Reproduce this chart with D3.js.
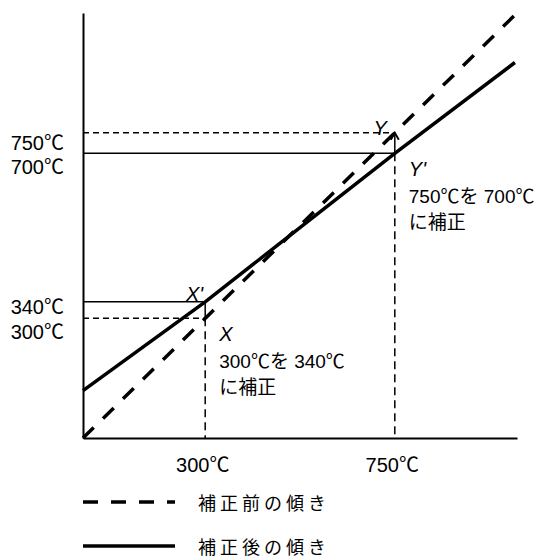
<!DOCTYPE html>
<html><head><meta charset="utf-8">
<script src="https://cdn.jsdelivr.net/npm/d3@7"></script>
<style>
body{margin:0;background:#fff;}
text{font-family:"Liberation Sans",Arial,"Noto Sans CJK JP",sans-serif;fill:#000;}
</style></head>
<body><svg id="c" width="545" height="558"></svg>
<script>
// ---- data ----
const xTickValues = [300, 750];
const yTickValues = [750, 700, 340, 300];
const tickLabel = d => d + "℃";
const beforeLine = [[10, 10], [1035, 1035]];                 // 補正前の傾き
const afterLine  = [[10, 125], [300, 340], [750, 700], [1035, 920]]; // 補正後の傾き
const corrections = [
  {actual: 300, before: 300, after: 340, p: "X", q: "X'", text1: "300℃を 340℃", text2: "に補正", arrow: false},
  {actual: 750, before: 750, after: 700, p: "Y", q: "Y'", text1: "750℃を 700℃", text2: "に補正", arrow: true}
];
const legendItems = [
  {label: "補正前の傾き", dashed: true},
  {label: "補正後の傾き", dashed: false}
];

// ---- chart ----
const svg = d3.select("#c");
const x = d3.scaleLinear().domain([10, 1040]).range([83, 517]);
const y = d3.scaleLinear().domain([10, 1040]).range([438, 13]);
const line = d3.line().x(d => x(d[0])).y(d => y(d[1]));

// reference lines
corrections.forEach(c => {
  svg.append("line").attr("x1", x.range()[0]).attr("x2", x(c.actual))
    .attr("y1", y(c.before)).attr("y2", y(c.before))
    .attr("stroke", "#000").attr("stroke-width", 1.5).attr("stroke-dasharray", "6,4");
  svg.append("line").attr("x1", x.range()[0]).attr("x2", x(c.actual))
    .attr("y1", y(c.after)).attr("y2", y(c.after))
    .attr("stroke", "#000").attr("stroke-width", 1.5);
  const low = Math.min(c.before, c.after);
  svg.append("line").attr("x1", x(c.actual)).attr("x2", x(c.actual))
    .attr("y1", y(low)).attr("y2", y.range()[0])
    .attr("stroke", "#000").attr("stroke-width", 1.5).attr("stroke-dasharray", "8,5");
  svg.append("line").attr("x1", x(c.actual)).attr("x2", x(c.actual))
    .attr("y1", y(low)).attr("y2", y(Math.max(c.before, c.after)) + (c.arrow ? 2 : 0))
    .attr("stroke", "#000").attr("stroke-width", 1.5);
  if (c.arrow) {
    const ax = x(c.actual), ay = y(c.before);
    svg.append("path").attr("d", `M${ax - 4},${ay + 7}L${ax},${ay}L${ax + 4},${ay + 7}`)
      .attr("fill", "none").attr("stroke", "#000").attr("stroke-width", 2);
  }
});

// diagonals
svg.append("path").datum(beforeLine).attr("d", line).attr("fill", "none")
  .attr("stroke", "#000").attr("stroke-width", 3.5).attr("stroke-dasharray", "15,13");
svg.append("path").datum(afterLine).attr("d", line).attr("fill", "none")
  .attr("stroke", "#000").attr("stroke-width", 3.5);

// axes
const xAxis = svg.append("g").attr("transform", `translate(0,${y.range()[0]})`)
  .call(d3.axisBottom(x).tickValues(xTickValues).tickFormat(tickLabel).tickSize(0).tickSizeOuter(0).tickPadding(20));
xAxis.select(".domain").attr("stroke-width", 2);
xAxis.selectAll("text").attr("font-size", 20).attr("dx", -3).attr("font-family", null);

const yAxis = svg.append("g").attr("transform", `translate(${x.range()[0]},0)`)
  .call(d3.axisLeft(y).tickValues(yTickValues).tickFormat(tickLabel).tickSize(0).tickSizeOuter(0).tickPadding(19));
yAxis.select(".domain").attr("stroke-width", 2);
// labels sit just under their lines; the upper label of each pair a little tighter
yAxis.selectAll("text").attr("font-size", 20).attr("font-family", null)
  .attr("dy", null).attr("y", (d, i) => (i === 2 ? 12 : i === 0 ? 17 : 20));

// annotations
corrections.forEach(c => {
  const ax = x(c.actual);
  const lo = y(Math.min(c.before, c.after));
  const top = c.arrow ? y(c.before) : y(c.after);
  svg.append("text").attr("x", ax - (c.arrow ? 8 : 2)).attr("y", top + (c.arrow ? 2 : -1))
    .attr("text-anchor", "end").attr("font-size", 20).attr("font-style", "italic")
    .text(c.arrow ? c.p : c.q);
  const bx = ax + 14;
  const g = svg.append("g").attr("font-size", 19);
  g.append("text").attr("x", bx).attr("y", lo + 23).attr("font-size", 20).attr("font-style", "italic").text(c.arrow ? c.q : c.p);
  g.append("text").attr("x", bx).attr("y", lo + 50).text(c.text1);
  g.append("text").attr("x", bx).attr("y", lo + 76).text(c.text2);
});

// legend
const leg = svg.append("g");
legendItems.forEach((d, i) => {
  const ly = 502 + i * 44;
  leg.append("line").attr("x1", 83).attr("x2", 175).attr("y1", ly).attr("y2", ly)
    .attr("stroke", "#000").attr("stroke-width", 3.5)
    .attr("stroke-dasharray", d.dashed ? "15,13" : null);
  leg.append("text").attr("x", 198).attr("y", ly + 8).attr("font-size", 18)
    .attr("letter-spacing", 4).text(d.label);
});
</script></body></html>
